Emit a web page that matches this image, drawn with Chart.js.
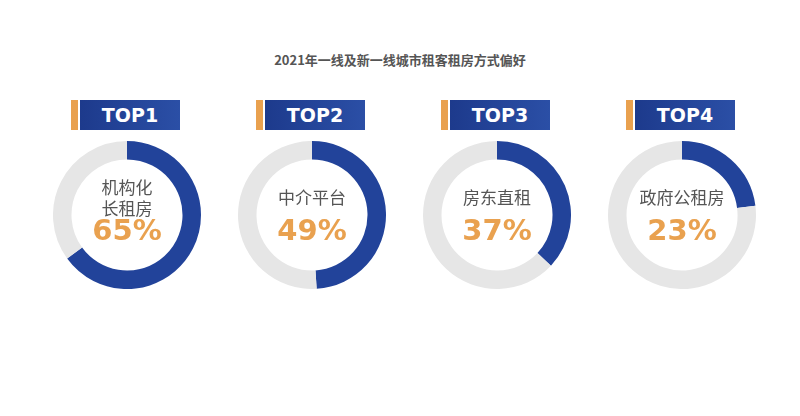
<!DOCTYPE html>
<html><head><meta charset="utf-8">
<script src="https://cdn.jsdelivr.net/npm/chart.js@4/dist/chart.umd.min.js"></script>
<style>
body{margin:0;width:800px;height:416px;background:#fff;font-family:"Noto Sans CJK SC",sans-serif;position:relative;overflow:hidden}
.title{position:absolute;top:50px;left:0;width:800px;text-align:center;font-size:13px;font-weight:bold;color:#555}
.badge{position:absolute;top:100px;height:30px;width:110px}
.badge .o{position:absolute;left:0;top:0;width:7px;height:30px;background:#e9a14f}
.badge .b{position:absolute;left:9px;top:0;width:100px;height:30px;background:linear-gradient(90deg,#1d3a8c,#2b4fa6);color:#fff;font:bold 19px "DejaVu Sans",sans-serif;text-align:center;line-height:30px}
.ring{position:absolute;top:141px;width:148px;height:148px}
.lab{position:absolute;top:141px;width:148px;text-align:center;color:#555;font-size:17px;line-height:21px}
.pct{position:absolute;top:213px;width:148px;text-align:center;color:#e9a14f;font:bold 29px "DejaVu Sans",sans-serif}
</style></head><body>
<div class="title">2021年一线及新一线城市租客租房方式偏好</div>
<div id="root"></div>
<script>
const ranks = ['TOP1','TOP2','TOP3','TOP4'];
const names = [['机构化','长租房'],['中介平台'],['房东直租'],['政府公租房']];
const shares = [65, 49, 37, 23];
const centersX = [127, 312, 497, 682];

const root = document.getElementById('root');
shares.forEach(function(v, i){
  const cx = centersX[i];
  root.insertAdjacentHTML('beforeend',
    '<div class="badge" style="left:' + (cx-56) + 'px"><div class="o"></div><div class="b">' + ranks[i] + '</div></div>' +
    '<div class="ring" style="left:' + (cx-74) + 'px"><canvas id="c' + i + '"></canvas></div>' +
    '<div class="lab" style="left:' + (cx-74) + 'px;top:' + (names[i].length > 1 ? 176 : 186) + 'px">' + names[i].join('<br>') + '</div>' +
    '<div class="pct" style="left:' + (cx-74) + 'px">' + v + '%</div>');
  new Chart(document.getElementById('c' + i), {
    type: 'doughnut',
    data: {
      labels: [names[i].join(''), '其他'],
      datasets: [{
        data: [v, 100 - v],
        backgroundColor: ['#22439a', '#e6e6e6'],
        borderWidth: 0
      }]
    },
    options: {
      responsive: true,
      maintainAspectRatio: true,
      animation: false,
      cutout: '75%',
      layout: {padding: 0},
      plugins: {legend: {display: false}, tooltip: {enabled: false}}
    }
  });
});
</script>
</body></html>
